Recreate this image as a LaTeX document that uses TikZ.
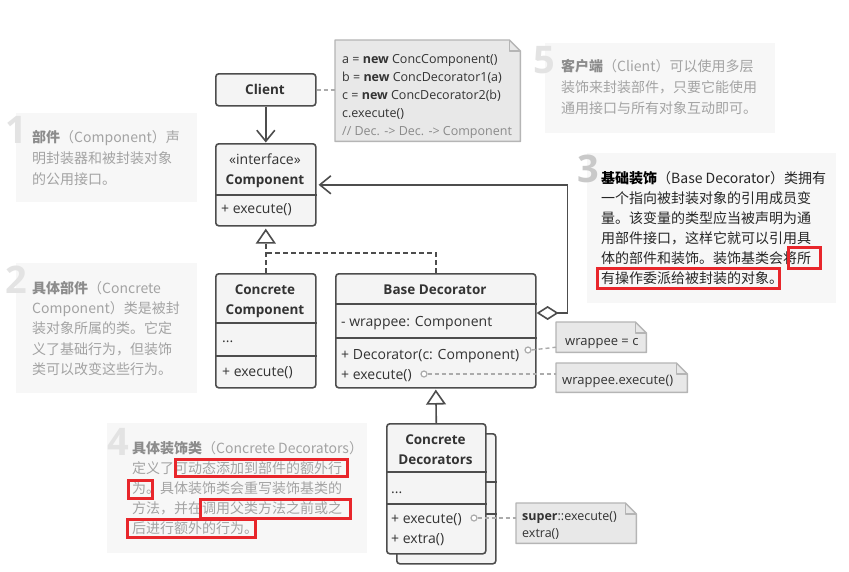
\documentclass[tikz,border=0pt]{standalone}
\usepackage{fontspec}
\setmainfont{Open Sans}
\newfontfamily\cjk{Noto Sans CJK SC}
\usetikzlibrary{arrows.meta}
\definecolor{umlfill}{HTML}{F4F4F4}
\definecolor{umlstroke}{HTML}{4D4D4D}
\definecolor{umltext}{HTML}{333333}
\definecolor{notefill}{HTML}{E8E8E8}
\definecolor{notestroke}{HTML}{B5B5B5}
\definecolor{descfill}{HTML}{F7F7F7}
\definecolor{desctext}{HTML}{A3A3A3}
\definecolor{deschead}{HTML}{8C8C8C}
\definecolor{numlight}{HTML}{E3E3E3}
\definecolor{numdark}{HTML}{C9C9C9}
\definecolor{hlred}{HTML}{E8262B}
\definecolor{commentgray}{HTML}{8A8A8A}
\definecolor{portgray}{HTML}{ABABAB}
\definecolor{darktext}{HTML}{262626}
\newcommand\uf{\fontsize{14}{16}\selectfont}
\newcommand\ubf{\fontsize{13.5}{16}\selectfont\bfseries}
\newcommand\nf{\fontsize{12.5}{15}\selectfont}
\newcommand\wf{\fontsize{13}{15}\selectfont}
\newcommand\df{\cjk\fontsize{14}{20}\selectfont}
\newcommand\bigdigit{\fontsize{38}{40}\selectfont\bfseries}
\newcommand\foldnote[1]{%
  \draw[notedraw] (#1.south west) -- (#1.north west) -- ([xshift=-11pt]#1.north east) -- ([yshift=-11pt]#1.north east) -- (#1.south east) -- cycle;
  \draw[notedraw, fill=none] ([xshift=-11pt]#1.north east) |- ([yshift=-11pt]#1.north east);}
\tikzset{
  box/.style={draw=umlstroke, fill=umlfill, line width=1.6pt, rounded corners=3pt, anchor=north west, inner sep=0pt},
  divider/.style={draw=umlstroke, line width=1.6pt},
  t/.style={inner sep=0pt, text=umltext, font=\uf, anchor=base west},
  tc/.style={t, anchor=base},
  tb/.style={tc, font=\ubf},
  assoc/.style={draw=umlstroke, line width=1.6pt},
  dashline/.style={assoc, dash pattern=on 5pt off 3pt},
  notebg/.style={inner sep=0pt, anchor=north west},
  notedraw/.style={draw=notestroke, fill=notefill, line width=1.4pt, line join=round},
  notelink/.style={draw=portgray, line width=1.4pt, dash pattern=on 4pt off 3pt},
  port/.style={circle, draw=portgray, fill=white, line width=1.2pt, minimum size=6pt, inner sep=0pt},
  nt/.style={inner sep=0pt, text=umltext, font=\nf, anchor=base west},
  desc/.style={fill=descfill, anchor=north west, inner sep=0pt},
  dt/.style={inner sep=0pt, text=desctext, font=\df, anchor=base west},
  dt3/.style={dt, text=darktext},
  dnum/.style={inner sep=0pt, text=numlight, font=\bigdigit, anchor=base east},
  hl/.style={draw=hlred, line width=3pt},
  opentip/.style={-{Straight Barb[length=11pt,width=18pt]}},
  gentip/.style={-{Triangle[length=15pt,width=20pt,fill=white]}}
}
\begin{document}
\begin{tikzpicture}[x=1pt,y=-1pt]
\useasboundingbox (0,0) rectangle (849,571);
\fill[white] (0,0) rectangle (849,571);

% ---------- description notes ----------
\node[desc, minimum width=181pt, minimum height=89pt] (bg1) at (16,113) {};
\node[desc, minimum width=181pt, minimum height=130pt] (bg2) at (16,263) {};
\node[desc, minimum width=260pt, minimum height=130pt] (bg4) at (107,423) {};
\node[desc, minimum width=249pt, minimum height=150pt] (bg3) at (587,153) {};
\node[desc, minimum width=230pt, minimum height=90pt] (bg5) at (545,43) {};

\node[dnum] (n1) at (27,143) {1};
\node[dnum] (n2) at (27,293) {2};
\node[dnum] (n4) at (129,455) {4};
\node[dnum] (n5) at (555,73) {5};
\node[dnum, text=numdark] (n3) at (599,182) {3};

\node[dt] (d1a) at (32,142) {{\color{deschead}\bfseries 部件}（Component）声};
\node[dt] (d1b) at (32,163) {明封装器和被封装对象};
\node[dt] (d1c) at (32,184) {的公用接口。};

\node[dt] (d2a) at (32,293) {{\color{deschead}\bfseries 具体部件}（Concrete};
\node[dt] (d2b) at (32,313.3) {Component）类是被封};
\node[dt] (d2c) at (32,333.6) {装对象所属的类。它定};
\node[dt] (d2d) at (32,354) {义了基础行为，但装饰};
\node[dt] (d2e) at (32,374.2) {类可以改变这些行为。};

\node[dt3] (d3a) at (601,183) {{\color{black}\bfseries 基础装饰}（Base Decorator）类拥有};
\node[dt3] (d3b) at (601,203) {一个指向被封装对象的引用成员变};
\node[dt3] (d3c) at (601,223) {量。该变量的类型应当被声明为通};
\node[dt3] (d3d) at (601,243) {用部件接口，这样它就可以引用具};
\node[dt3] (d3e) at (601,263) {体的部件和装饰。装饰基类会将所};
\node[dt3] (d3f) at (601,283) {有操作委派给被封装的对象。};

\node[dt] (d4a) at (132,453.5) {{\color{deschead}\bfseries 具体装饰类}（Concrete Decorators）};
\node[dt] (d4b) at (132,473.5) {定义了可动态添加到部件的额外行};
\node[dt] (d4c) at (132,493.5) {为。具体装饰类会重写装饰基类的};
\node[dt] (d4d) at (132,513.5) {方法，并在调用父类方法之前或之};
\node[dt] (d4e) at (132,533.5) {后进行额外的行为。};

\node[dt] (d5a) at (561,71) {{\color{deschead}\bfseries 客户端}（Client）可以使用多层};
\node[dt] (d5b) at (561,92) {装饰来封装部件，只要它能使用};
\node[dt] (d5c) at (561,113) {通用接口与所有对象互动即可。};

% ---------- code notes ----------
\node[notebg, minimum width=185pt, minimum height=101pt] (tnote) at (335,40) {};
\foldnote{tnote}
\node[nt] (c1) at (342,63.5) {a = {\bfseries new} ConcComponent()};
\node[nt] (c2) at (342,81.5) {b = {\bfseries new} ConcDecorator1(a)};
\node[nt] (c3) at (342,99.5) {c = {\bfseries new} ConcDecorator2(b)};
\node[nt] (c4) at (342,117.5) {c.execute()};
\node[nt, text=commentgray] (c5) at (342,135) {// Dec. -> Dec. -> Component};

\node[notebg, minimum width=90pt, minimum height=30pt] (wnote) at (556,322) {};
\foldnote{wnote}
\node[nt, font=\wf] (w1) at (565,345) {wrappee = c};

\node[notebg, minimum width=131pt, minimum height=29pt] (enote) at (556,363) {};
\foldnote{enote}
\node[nt, font=\wf] (e1) at (562,384) {wrappee.execute()};

\node[notebg, minimum width=120pt, minimum height=40pt] (snote) at (516,503) {};
\foldnote{snote}
\node[nt] (s1) at (522,520.5) {{\bfseries super}::execute()};
\node[nt] (s2) at (522,537.5) {extra()};

% ---------- UML boxes ----------
\node[box, minimum width=100pt, minimum height=32pt] (client) at (215,73) {};
\node[tb] (clientT) at (265,94) {Client};

\node[box, minimum width=100pt, minimum height=82pt] (comp) at (215,143) {};
\draw[divider] ([yshift=-52pt]comp.north west) -- ([yshift=-52pt]comp.north east);
\node[tc] (compS) at (265,164) {«interface»};
\node[tb] (compT) at (265,184) {Component};
\node[t] (compM) at (221,213) {+ execute()};

\node[box, minimum width=100pt, minimum height=114pt] (ccomp) at (215,273) {};
\draw[divider] ([yshift=-50pt]ccomp.north west) -- ([yshift=-50pt]ccomp.north east);
\draw[divider] ([yshift=-83pt]ccomp.north west) -- ([yshift=-83pt]ccomp.north east);
\node[tb] (ccompT1) at (265,294) {Concrete};
\node[tb] (ccompT2) at (265,314) {Component};
\node[t] (ccompF) at (222,342) {...};
\node[t] (ccompM) at (222,376) {+ execute()};

\node[box, minimum width=200pt, minimum height=114pt] (bdec) at (335,273) {};
\draw[divider] ([yshift=-31pt]bdec.north west) -- ([yshift=-31pt]bdec.north east);
\draw[divider] ([yshift=-65pt]bdec.north west) -- ([yshift=-65pt]bdec.north east);
\node[tb] (bdecT) at (435,294) {Base Decorator};
\node[t] (bdecF) at (341,326) {- wrappee: Component};
\node[t] (bdecM1) at (341,359) {+ Decorator(c: Component)};
\node[t] (bdecM2) at (341,379) {+ execute()};

\node[box, minimum width=99pt, minimum height=130pt] (cdecback) at (396,433) {};
\draw[divider] ([yshift=-49pt]cdecback.north west) -- ([yshift=-49pt]cdecback.north east);
\draw[divider] ([yshift=-81pt]cdecback.north west) -- ([yshift=-81pt]cdecback.north east);
\node[box, minimum width=99pt, minimum height=130pt] (cdec) at (386,423) {};
\draw[divider] ([yshift=-49pt]cdec.north west) -- ([yshift=-49pt]cdec.north east);
\draw[divider] ([yshift=-81pt]cdec.north west) -- ([yshift=-81pt]cdec.north east);
\node[tb] (cdecT1) at (435.5,444) {Concrete};
\node[tb] (cdecT2) at (435.5,464) {Decorators};
\node[t] (cdecF) at (391,493) {...};
\node[t] (cdecM1) at (391,523) {+ execute()};
\node[t] (cdecM2) at (391,543) {+ extra()};

% ---------- connectors ----------
\coordinate (j1) at (265,253);
\coordinate (aggy) at (0,313);
\draw[assoc, opentip, shorten >=0.5pt] (client.south) -- (comp.north);
\draw[dashline, gentip, shorten >=2pt] (ccomp.north) -- (comp.south);
\draw[dashline] (bdec.north) |- (j1);
\draw[assoc, gentip, shorten >=1pt] (cdec.north) -- (bdec.south);
\draw[assoc, {Diamond[length=22pt,width=14pt,fill=white]}-{Straight Barb[length=11pt,width=18pt]}, shorten >=2pt]
  (bdec.east |- aggy) -- ++(31,0) |- (comp.east);

\draw[notelink] (client.east) -- (client.east -| tnote.west);
\node[port] (p1) at (528,350) {};
\node[port] (p2) at (424,374) {};
\node[port] (p3) at (474,518) {};
\draw[notelink] (p1.east) -- ([yshift=-10pt]wnote.west);
\draw[notelink] (p2.east) -- (p2 -| enote.west);
\draw[notelink] (p3.east) -- (p3 -| snote.west);

% ---------- highlights ----------
\draw[hl] (788,247) rectangle (820,268);
\draw[hl] (597,268) rectangle (779,288);
\draw[hl] (175,459) rectangle (347,476);
\draw[hl] (128,480) rectangle (152,498);
\draw[hl] (200,499) rectangle (350,518);
\draw[hl] (127,519) rectangle (255,537);
\end{tikzpicture}
\end{document}
